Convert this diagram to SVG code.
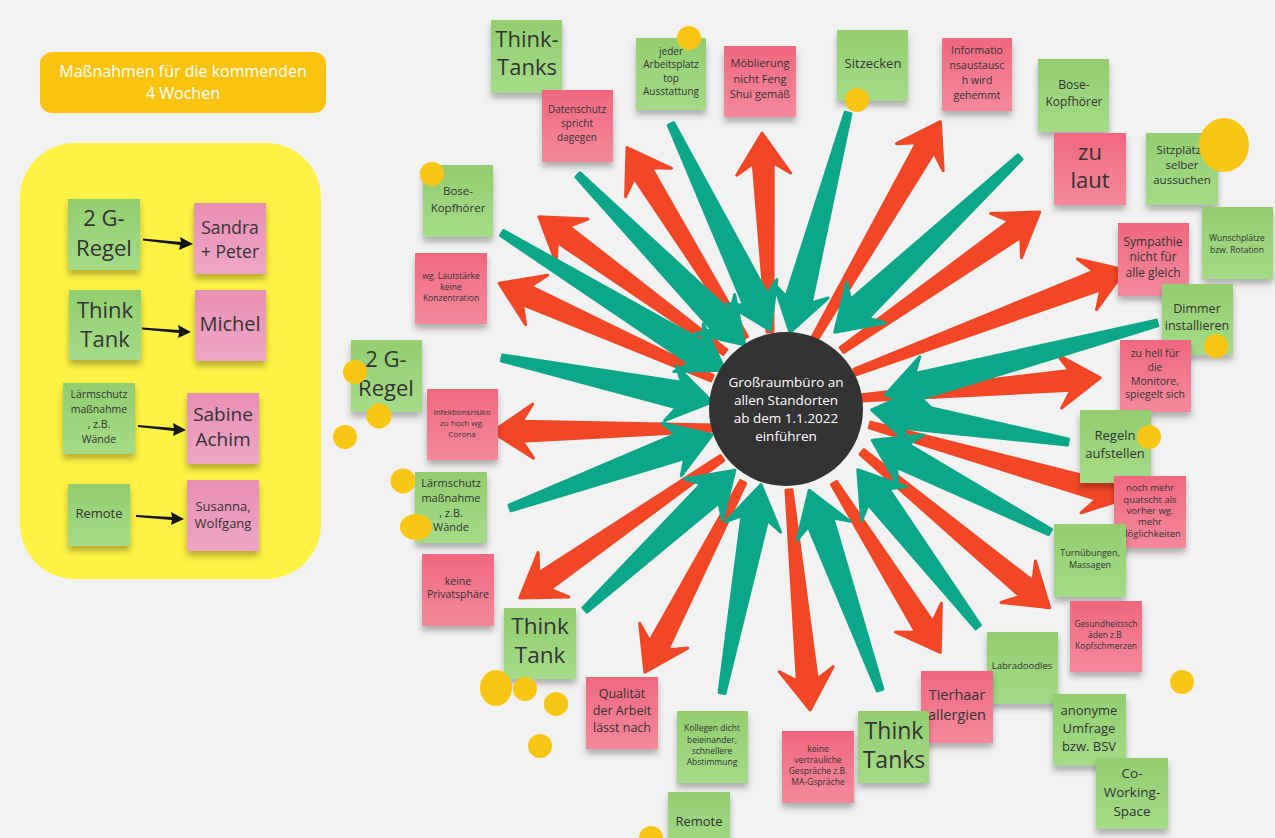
<svg xmlns="http://www.w3.org/2000/svg" width="1275" height="838" viewBox="0 0 1275 838">
<defs>
<linearGradient id="gg" x1="0" y1="0" x2="0" y2="1"><stop offset="0" stop-color="#92ce70"/><stop offset="1" stop-color="#a5db88"/></linearGradient>
<linearGradient id="pg" x1="0" y1="0" x2="0" y2="1"><stop offset="0" stop-color="#f06880"/><stop offset="1" stop-color="#f4899b"/></linearGradient>
<linearGradient id="lg" x1="0" y1="0" x2="0" y2="1"><stop offset="0" stop-color="#e98fb4"/><stop offset="1" stop-color="#eea7c6"/></linearGradient>
<filter id="sh" x="-20%" y="-20%" width="140%" height="150%"><feDropShadow dx="0" dy="5" stdDeviation="3" flood-color="#000" flood-opacity="0.28"/></filter>
<style>
.g{fill:url(#gg);filter:url(#sh)}
.p{fill:url(#pg);filter:url(#sh)}
.l{fill:url(#lg);filter:url(#sh)}
text{font-family:"Open Sans","Liberation Sans",sans-serif;fill:#333;text-anchor:middle}
.w{fill:#fff}
.dot{fill:#f9c614}
.ra{fill:#f24726;stroke:#f24726;stroke-width:3;stroke-linejoin:round}
.ga{fill:#0ca789;stroke:#0ca789;stroke-width:3;stroke-linejoin:round}
.ba{fill:#151515}
</style>
</defs>
<rect width="1275" height="838" fill="#f2f2f2"/>

<g id="header">
<rect x="40" y="52" width="286" height="61" rx="12" fill="#f9c30f"/>
<text class="w" font-size="16"><tspan x="183" y="77">Maßnahmen für die kommenden</tspan><tspan x="183" y="99">4 Wochen</tspan></text>
</g>
<rect id="panel" x="20" y="143" width="301" height="436" rx="55" fill="#fef244"/>

<g id="connectors">
<g id="red-arrows">
<path class="ra" transform="translate(770,332) rotate(-92.3)" d="M0,-3 L169,-10 L158,-27 L199,0 L158,27 L169,10 L0,3 Z"/>
<path class="ra" transform="translate(745,338) rotate(-121.8)" d="M0,-3 L194,-10 L183,-27 L224,0 L183,27 L194,10 L0,3 Z"/>
<path class="ra" transform="translate(725,352) rotate(-144)" d="M0,-3 L200,-10 L189,-27 L230,0 L189,27 L200,10 L0,3 Z"/>
<path class="ra" transform="translate(712,378) rotate(-156)" d="M0,-3 L203,-10 L192,-27 L233,0 L192,27 L203,10 L0,3 Z"/>
<path class="ra" transform="translate(714,428) rotate(179)" d="M0,-3 L192,-10 L181,-27 L222,0 L181,27 L192,10 L0,3 Z"/>
<path class="ra" transform="translate(722,458) rotate(145.3)" d="M0,-3 L216,-10 L205,-27 L246,0 L205,27 L216,10 L0,3 Z"/>
<path class="ra" transform="translate(743,482) rotate(117.3)" d="M0,-3 L184,-10 L173,-27 L214,0 L173,27 L184,10 L0,3 Z"/>
<path class="ra" transform="translate(789,490) rotate(84.5)" d="M0,-3 L191,-10 L180,-27 L221,0 L180,27 L191,10 L0,3 Z"/>
<path class="ra" transform="translate(834,483) rotate(57.9)" d="M0,-3 L170,-10 L159,-27 L200,0 L159,27 L170,10 L0,3 Z"/>
<path class="ra" transform="translate(862,452) rotate(39.7)" d="M0,-3 L214,-10 L203,-27 L244,0 L203,27 L214,10 L0,3 Z"/>
<path class="ra" transform="translate(870,425) rotate(15.8)" d="M0,-3 L238,-10 L227,-27 L268,0 L227,27 L238,10 L0,3 Z"/>
<path class="ra" transform="translate(860,398) rotate(-4.8)" d="M0,-3 L211,-10 L200,-27 L241,0 L200,27 L211,10 L0,3 Z"/>
<path class="ra" transform="translate(855,372) rotate(-20.7)" d="M0,-3 L259,-10 L248,-27 L289,0 L248,27 L259,10 L0,3 Z"/>
<path class="ra" transform="translate(842,350) rotate(-34.9)" d="M0,-3 L211,-10 L200,-27 L241,0 L200,27 L211,10 L0,3 Z"/>
<path class="ra" transform="translate(815,338) rotate(-59.9)" d="M0,-3 L220,-10 L209,-27 L250,0 L209,27 L220,10 L0,3 Z"/>
</g>
<g id="green-arrows">
<path class="ga" transform="translate(671,124) rotate(64.3)" d="M0,-3 L195,-13 L186,-28 L229,0 L186,28 L195,13 L0,3 Z"/>
<path class="ga" transform="translate(848,113) rotate(104.8)" d="M0,-3 L193,-13 L184,-28 L227,0 L184,28 L193,13 L0,3 Z"/>
<path class="ga" transform="translate(1020,157) rotate(136.6)" d="M0,-3 L221,-13 L212,-28 L255,0 L212,28 L221,13 L0,3 Z"/>
<path class="ga" transform="translate(578,175) rotate(45.5)" d="M0,-3 L204,-13 L195,-28 L238,0 L195,28 L204,13 L0,3 Z"/>
<path class="ga" transform="translate(502,233) rotate(31.6)" d="M0,-3 L228,-13 L219,-28 L262,0 L219,28 L228,13 L0,3 Z"/>
<path class="ga" transform="translate(502,358) rotate(11.8)" d="M0,-3 L181,-13 L172,-28 L215,0 L172,28 L181,13 L0,3 Z"/>
<path class="ga" transform="translate(510,508) rotate(-19.9)" d="M0,-3 L181,-13 L172,-28 L215,0 L172,28 L181,13 L0,3 Z"/>
<path class="ga" transform="translate(585,610) rotate(-43)" d="M0,-3 L171,-13 L162,-28 L205,0 L162,28 L171,13 L0,3 Z"/>
<path class="ga" transform="translate(722,693) rotate(-79.4)" d="M0,-3 L178,-13 L169,-28 L212,0 L169,28 L178,13 L0,3 Z"/>
<path class="ga" transform="translate(880,690) rotate(-109.5)" d="M0,-3 L178,-13 L169,-28 L212,0 L169,28 L178,13 L0,3 Z"/>
<path class="ga" transform="translate(978,627) rotate(-127.4)" d="M0,-3 L164,-13 L155,-28 L198,0 L155,28 L164,13 L0,3 Z"/>
<path class="ga" transform="translate(1050,532) rotate(-152.7)" d="M0,-3 L166,-13 L157,-28 L200,0 L157,28 L166,13 L0,3 Z"/>
<path class="ga" transform="translate(1068,442) rotate(-170.7)" d="M0,-3 L165,-13 L156,-28 L199,0 L156,28 L165,13 L0,3 Z"/>
<path class="ga" transform="translate(1157,323) rotate(165.2)" d="M0,-3 L247,-13 L238,-28 L281,0 L238,28 L247,13 L0,3 Z"/>
</g>
<g id="black-arrows">
<path class="ba" d="M143,238.5 L181,242 L180,237 L193,244 L179,250 L180,245 L143,240.5 Z"/>
<path class="ba" d="M142,327.5 L179,330 L178,325 L191,332 L178,338 L179,333 L142,329.5 Z"/>
<path class="ba" d="M138,425 L174,428 L173,423 L186,430 L173,436 L174,431 L138,427 Z"/>
<path class="ba" d="M136,515 L172,517 L171,512 L184,519 L171,525 L172,520 L136,517 Z"/>
</g>
</g>

<g id="center">
<circle cx="786" cy="409" r="77" fill="#333"/>
<text class="w" font-size="13.5"><tspan x="786" y="387">Großraumbüro an</tspan><tspan x="786" y="405">allen Standorten</tspan><tspan x="786" y="423">ab dem 1.1.2022</tspan><tspan x="786" y="441">einführen</tspan></text>
</g>

<g id="l-2g"><rect class="g" x="68" y="199" width="72" height="71"/><text font-size="22"><tspan x="104" y="226">2 G-</tspan><tspan x="104" y="256">Regel</tspan></text></g>
<g id="l-sandra"><rect class="l" x="194" y="203" width="72" height="71"/><text font-size="17.5"><tspan x="230" y="234">Sandra</tspan><tspan x="230" y="258">+ Peter</tspan></text></g>
<g id="l-think"><rect class="g" x="69" y="290" width="72" height="70"/><text font-size="22"><tspan x="105" y="318">Think</tspan><tspan x="105" y="347">Tank</tspan></text></g>
<g id="l-michel"><rect class="l" x="195" y="290" width="71" height="71"/><text font-size="20"><tspan x="230" y="331">Michel</tspan></text></g>
<g id="l-laerm"><rect class="g" x="63" y="383" width="72" height="71"/><text font-size="10.5"><tspan x="99" y="398">Lärmschutz</tspan><tspan x="99" y="413">maßnahme</tspan><tspan x="99" y="428">, z.B.</tspan><tspan x="99" y="443">Wände</tspan></text></g>
<g id="l-sabine"><rect class="l" x="187" y="393" width="72" height="71"/><text font-size="19"><tspan x="223" y="421">Sabine</tspan><tspan x="223" y="446">Achim</tspan></text></g>
<g id="l-remote"><rect class="g" x="68" y="484" width="62" height="62"/><text font-size="13"><tspan x="99" y="518">Remote</tspan></text></g>
<g id="l-susanna"><rect class="l" x="187" y="480" width="72" height="71"/><text font-size="13"><tspan x="223" y="511">Susanna,</tspan><tspan x="223" y="528">Wolfgang</tspan></text></g>

<g id="n-thinktanks"><rect class="g" x="491" y="20" width="71" height="73"/><text font-size="22"><tspan x="527" y="47">Think-</tspan><tspan x="527" y="75">Tanks</tspan></text></g>
<g id="n-datenschutz"><rect class="p" x="542" y="90" width="71" height="72"/><text font-size="10"><tspan x="577" y="113">Datenschutz</tspan><tspan x="577" y="127">spricht</tspan><tspan x="577" y="141">dagegen</tspan></text></g>
<g id="n-jeder"><rect class="g" x="636" y="38" width="70" height="72"/><text font-size="10"><tspan x="671" y="55">jeder</tspan><tspan x="671" y="68">Arbeitsplatz</tspan><tspan x="671" y="82">top</tspan><tspan x="671" y="95">Ausstattung</tspan></text><circle class="dot" cx="689" cy="38" r="12"/></g>
<g id="n-moeblierung"><rect class="p" x="724" y="46" width="72" height="71"/><text font-size="11"><tspan x="760" y="67">Möblierung</tspan><tspan x="760" y="83">nicht Feng</tspan><tspan x="760" y="98">Shui gemäß</tspan></text></g>
<g id="n-sitzecken"><rect class="g" x="837" y="30" width="71" height="71"/><text font-size="13"><tspan x="873" y="68">Sitzecken</tspan></text><circle class="dot" cx="857" cy="100" r="12"/></g>
<g id="n-info"><rect class="p" x="942" y="38" width="70" height="73"/><text font-size="10.5"><tspan x="977" y="54">Informatio</tspan><tspan x="977" y="69">nsaustausc</tspan><tspan x="977" y="84">h wird</tspan><tspan x="977" y="99">gehemmt</tspan></text></g>
<g id="n-bose1"><rect class="g" x="1038" y="59" width="71" height="73"/><text font-size="12"><tspan x="1074" y="89">Bose-</tspan><tspan x="1074" y="106">Kopfhörer</tspan></text></g>
<g id="n-zulaut"><rect class="p" x="1054" y="133" width="72" height="72"/><text font-size="22"><tspan x="1090" y="160">zu</tspan><tspan x="1090" y="188">laut</tspan></text></g>
<g id="n-sitzplaetze"><rect class="g" x="1146" y="133" width="72" height="72"/><text font-size="11.5"><tspan x="1182" y="154">Sitzplätze</tspan><tspan x="1182" y="169">selber</tspan><tspan x="1182" y="184">aussuchen</tspan></text><ellipse class="dot" cx="1224" cy="145" rx="25" ry="27"/></g>
<g id="n-wunsch"><rect class="g" x="1202" y="207" width="71" height="72"/><text font-size="8.5"><tspan x="1237" y="241">Wunschplätze</tspan><tspan x="1237" y="253">bzw. Rotation</tspan></text></g>
<g id="n-sympathie"><rect class="p" x="1118" y="223" width="71" height="73"/><text font-size="12"><tspan x="1153" y="246">Sympathie</tspan><tspan x="1153" y="261">nicht für</tspan><tspan x="1153" y="277">alle gleich</tspan></text></g>
<g id="n-dimmer"><rect class="g" x="1162" y="284" width="71" height="71"/><text font-size="12.5"><tspan x="1197" y="313">Dimmer</tspan><tspan x="1197" y="330">installieren</tspan></text><circle class="dot" cx="1216" cy="346" r="12"/></g>
<g id="n-zuhell"><rect class="p" x="1120" y="340" width="71" height="72"/><text font-size="10.5"><tspan x="1155" y="357">zu hell für</tspan><tspan x="1155" y="371">die</tspan><tspan x="1155" y="385">Monitore,</tspan><tspan x="1155" y="398">spiegelt sich</tspan></text></g>
<g id="n-regeln"><rect class="g" x="1080" y="410" width="71" height="73"/><text font-size="13"><tspan x="1115" y="440">Regeln</tspan><tspan x="1115" y="458">aufstellen</tspan></text><circle class="dot" cx="1149" cy="437" r="12"/></g>
<g id="n-nochmehr"><rect class="p" x="1114" y="476" width="72" height="72"/><text font-size="9.5"><tspan x="1150" y="491">noch mehr</tspan><tspan x="1150" y="503">quatscht als</tspan><tspan x="1150" y="514">vorher wg.</tspan><tspan x="1150" y="525">mehr</tspan><tspan x="1150" y="537">Möglichkeiten</tspan></text></g>
<g id="n-turn"><rect class="g" x="1054" y="524" width="72" height="73"/><text font-size="9"><tspan x="1090" y="556">Turnübungen,</tspan><tspan x="1090" y="568">Massagen</tspan></text></g>
<g id="n-gesund"><rect class="p" x="1070" y="601" width="72" height="71"/><text font-size="8.5"><tspan x="1106" y="627">Gesundheitssch</tspan><tspan x="1106" y="638">äden z.B.</tspan><tspan x="1106" y="649">Kopfschmerzen</tspan></text></g>
<g id="n-labra"><rect class="g" x="987" y="632" width="71" height="72"/><text font-size="9.5"><tspan x="1022" y="669">Labradoodles</tspan></text></g>
<g id="n-tierhaar"><rect class="p" x="921" y="671" width="72" height="72"/><text font-size="14.5"><tspan x="957" y="700">Tierhaar</tspan><tspan x="957" y="720">allergien</tspan></text></g>
<g id="n-anonym"><rect class="g" x="1053" y="694" width="73" height="72"/><text font-size="13"><tspan x="1089" y="715">anonyme</tspan><tspan x="1089" y="733">Umfrage</tspan><tspan x="1089" y="751">bzw. BSV</tspan></text></g>
<g id="n-cowork"><rect class="g" x="1096" y="758" width="72" height="71"/><text font-size="13.5"><tspan x="1132" y="778">Co-</tspan><tspan x="1132" y="797">Working-</tspan><tspan x="1132" y="816">Space</tspan></text></g>
<g id="n-thinktanks2"><rect class="g" x="858" y="711" width="71" height="72"/><text font-size="23"><tspan x="894" y="739">Think</tspan><tspan x="894" y="768">Tanks</tspan></text></g>
<g id="n-keinevertr"><rect class="p" x="782" y="731" width="72" height="72"/><text font-size="8.5"><tspan x="818" y="752">keine</tspan><tspan x="818" y="763">vertrauliche</tspan><tspan x="818" y="774">Gespräche z.B.</tspan><tspan x="818" y="785">MA-Gspräche</tspan></text></g>
<g id="n-kollegen"><rect class="g" x="677" y="711" width="71" height="72"/><text font-size="8.5"><tspan x="712" y="731">Kollegen dicht</tspan><tspan x="712" y="743">beieinander,</tspan><tspan x="712" y="754">schnellere</tspan><tspan x="712" y="765">Abstimmung</tspan></text></g>
<g id="n-remote"><rect class="g" x="668" y="792" width="62" height="60"/><text font-size="13"><tspan x="699" y="826">Remote</tspan></text><circle class="dot" cx="651" cy="838" r="12"/></g>
<g id="n-qualitaet"><rect class="p" x="586" y="677" width="72" height="72"/><text font-size="12.5"><tspan x="622" y="698">Qualität</tspan><tspan x="622" y="715">der Arbeit</tspan><tspan x="622" y="732">lässt nach</tspan></text></g>
<g id="n-thinktank3"><rect class="g" x="504" y="608" width="72" height="71"/><text font-size="22.5"><tspan x="540" y="634">Think</tspan><tspan x="540" y="663">Tank</tspan></text>
<ellipse class="dot" cx="496" cy="688" rx="16" ry="18"/><circle class="dot" cx="525" cy="689" r="12"/><circle class="dot" cx="556" cy="704" r="12"/><circle class="dot" cx="540" cy="746" r="12"/></g>
<g id="n-privat"><rect class="p" x="422" y="554" width="72" height="72"/><text font-size="10.5"><tspan x="458" y="585">keine</tspan><tspan x="458" y="598">Privatsphäre</tspan></text></g>
<g id="n-laerm"><rect class="g" x="415" y="472" width="72" height="71"/><text font-size="11"><tspan x="451" y="487">Lärmschutz</tspan><tspan x="451" y="502">maßnahme</tspan><tspan x="451" y="517">, z.B.</tspan><tspan x="451" y="531">Wände</tspan></text>
<circle class="dot" cx="403" cy="481" r="12.5"/><ellipse class="dot" cx="416" cy="527" rx="16" ry="13"/></g>
<g id="n-infekt"><rect class="p" x="427" y="389" width="71" height="71"/><text font-size="8"><tspan x="462" y="415">Infektionsrisiko</tspan><tspan x="462" y="426">zu hoch wg.</tspan><tspan x="462" y="437">Corona</tspan></text></g>
<g id="n-2g"><rect class="g" x="351" y="340" width="71" height="72"/><text font-size="22"><tspan x="386" y="367">2 G-</tspan><tspan x="386" y="396">Regel</tspan></text>
<circle class="dot" cx="355" cy="372" r="12"/><circle class="dot" cx="379" cy="416" r="12.5"/><circle class="dot" cx="345" cy="437" r="12"/></g>
<g id="n-lautstaerke"><rect class="p" x="415" y="253" width="72" height="71"/><text font-size="8.5"><tspan x="451" y="279">wg. Lautstärke</tspan><tspan x="451" y="290">keine</tspan><tspan x="451" y="301">Konzentration</tspan></text></g>
<g id="n-bose2"><rect class="g" x="423" y="165" width="70" height="72"/><text font-size="11.5"><tspan x="458" y="195">Bose-</tspan><tspan x="458" y="212">Kopfhörer</tspan></text><circle class="dot" cx="432" cy="174" r="12"/></g>
<circle id="dot-right" class="dot" cx="1182" cy="682" r="12"/>
</svg>
